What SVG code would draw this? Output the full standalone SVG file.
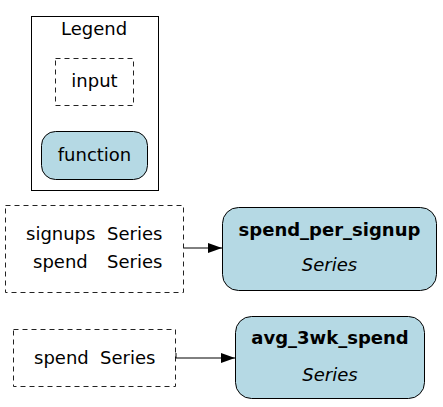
<svg xmlns="http://www.w3.org/2000/svg" width="443" height="407" viewBox="0 0 443 407">
<style>
text{font-family:"DejaVu Sans",sans-serif;font-size:18px;fill:#000}
.c{text-anchor:middle}
.b{font-weight:bold}
.i{font-style:italic}
.in{fill:none;stroke:#222;stroke-dasharray:5,4;stroke-width:1}
.fn{fill:#b5d9e4;stroke:#000;stroke-width:1}
.e{stroke:#000;stroke-width:1;fill:none}
</style>
<defs>
<marker id="ah" markerWidth="14" markerHeight="10" refX="14" refY="5" orient="auto" markerUnits="userSpaceOnUse">
<path d="M0,0 L14,5 L0,10 Z" fill="#000"/>
</marker>
</defs>
<g id="legend">
<rect x="31.5" y="16.5" width="127" height="174" fill="none" stroke="#000"/>
<text class="c" x="94" y="35">Legend</text>
<g id="legend-input">
<rect class="in" x="55.5" y="58.5" width="78" height="47"/>
<text class="c" x="94.5" y="87">input</text>
</g>
<g id="legend-function">
<rect class="fn" x="41.5" y="131.5" width="106" height="48" rx="14"/>
<text class="c" x="94.5" y="161">function</text>
</g>
</g>
<g id="in1">
<rect class="in" x="5.5" y="205.5" width="178" height="87"/>
<text x="26" y="240">signups</text><text x="107" y="240">Series</text>
<text x="33" y="268">spend</text><text x="107" y="268">Series</text>
</g>
<g id="spend_per_signup">
<rect class="fn" x="222.5" y="207.5" width="214" height="83" rx="16"/>
<text class="c b" x="329.5" y="236">spend_per_signup</text>
<text class="c i" x="329.5" y="271">Series</text>
</g>
<g id="in2">
<rect class="in" x="13.5" y="329.5" width="162" height="57"/>
<text x="34" y="364">spend</text><text x="100" y="364">Series</text>
</g>
<g id="avg_3wk_spend">
<rect class="fn" x="235.5" y="316.5" width="189" height="82" rx="16"/>
<text class="c b" x="330" y="344">avg_3wk_spend</text>
<text class="c i" x="330" y="381">Series</text>
</g>
<g id="edges">
<path class="e" d="M184,248 L222,248" marker-end="url(#ah)"/>
<path class="e" d="M176,353 L176,358 L235,358" marker-end="url(#ah)"/>
</g>
</svg>
